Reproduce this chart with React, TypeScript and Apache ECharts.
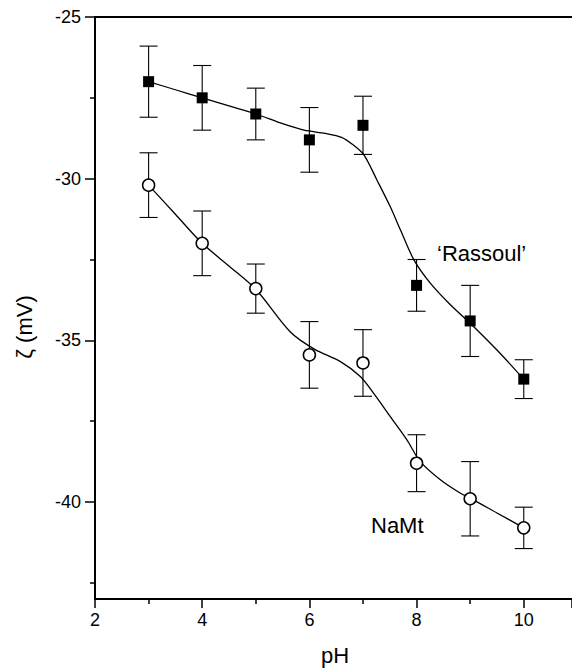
import React, { useEffect, useRef } from "react";
import * as echarts from "echarts";

// pH values of the measurements
const pH = [3, 4, 5, 6, 7, 8, 9, 10];
// zeta potential (mV), 'Rassoul' sample (filled squares)
const rassoulZeta = [-27.0, -27.5, -28.0, -28.8, -28.35, -33.3, -34.4, -36.2];
const rassoulErr = [1.1, 1.0, 0.8, 1.0, 0.9, 0.8, 1.1, 0.6];
// zeta potential (mV), NaMt sample (open circles)
const namtZeta = [-30.2, -32.0, -33.4, -35.45, -35.7, -38.8, -39.9, -40.8];
const namtErr = [1.0, 1.0, 0.76, 1.03, 1.03, 0.88, 1.15, 0.64];

// fitted curves
const rassoulFitX = [3, 3.5, 4, 4.5, 5, 5.5, 5.9, 6.3, 6.6, 6.82, 7.02, 7.26, 7.51, 7.7, 7.95, 8.26, 8.63, 9.0, 9.5, 10];
const rassoulFitY = [-27.0, -27.25, -27.5, -27.75, -28.0, -28.3, -28.5, -28.6, -28.72, -28.96, -29.27, -30.04, -30.87, -31.59, -32.51, -33.24, -33.9, -34.47, -35.3, -36.2];
const namtFitX = [3, 3.5, 4, 4.5, 5, 5.65, 6.1, 6.58, 6.95, 7.2, 7.51, 7.82, 8.07, 8.45, 8.82, 9.0, 9.5, 10];
const namtFitY = [-30.2, -31.1, -32.0, -32.7, -33.42, -34.75, -35.28, -35.66, -36.12, -36.64, -37.36, -38.08, -38.75, -39.32, -39.73, -39.88, -40.34, -40.8];

const yMajorTicks = [-40, -35, -30, -25];
const yMinorTicks = [-42.5, -37.5, -32.5, -27.5];

const FONT = "'Liberation Sans', Arial, Helvetica, sans-serif";

export default function App() {
  const ref = useRef<HTMLDivElement>(null);
  useEffect(() => {
    if (!ref.current) return;
    const chart = echarts.init(ref.current, undefined, { renderer: "svg" });

    const errData = (vals: number[], errs: number[]) =>
      pH.map((x, i) => [x, vals[i] - errs[i], vals[i] + errs[i]]);

    const errRender = (params: any, api: any) => {
      const x = api.value(0);
      const lo = api.coord([x, api.value(1)]);
      const hi = api.coord([x, api.value(2)]);
      const cap = 9;
      const style = { stroke: "#000", lineWidth: 1.1 };
      return {
        type: "group",
        children: [
          { type: "line", shape: { x1: lo[0], y1: lo[1], x2: hi[0], y2: hi[1] }, style },
          { type: "line", shape: { x1: lo[0] - cap, y1: lo[1], x2: lo[0] + cap, y2: lo[1] }, style },
          { type: "line", shape: { x1: hi[0] - cap, y1: hi[1], x2: hi[0] + cap, y2: hi[1] }, style },
        ],
      };
    };

    const axisLine = { show: true, lineStyle: { color: "#000", width: 2 } };

    chart.setOption({
      animation: false,
      backgroundColor: "#fff",
      grid: { left: 95, top: 17, bottom: 71, right: 0 },
      xAxis: [
        {
          type: "value",
          min: 2,
          max: 10.9,
          interval: 2,
          axisLine,
          axisTick: { show: true, length: 9, lineStyle: { color: "#000", width: 1.5 } },
          minorTick: { show: true, splitNumber: 2, length: 5, lineStyle: { color: "#000", width: 1.5 } },
          splitLine: { show: false },
          axisLabel: { color: "#000", fontSize: 18, fontFamily: FONT, margin: 12, showMaxLabel: false },
        },
        {
          type: "value",
          position: "top",
          min: 2,
          max: 10.9,
          axisLine,
          axisTick: { show: false },
          axisLabel: { show: false },
          splitLine: { show: false },
        },
      ],
      yAxis: [
        {
          type: "value",
          min: -43,
          max: -25,
          axisLine,
          axisTick: { show: true, length: 10, customValues: yMajorTicks, lineStyle: { color: "#000", width: 1.5 } },
          axisLabel: { color: "#000", fontSize: 18, fontFamily: FONT, margin: 14, customValues: yMajorTicks },
          splitLine: { show: false },
        },
        {
          type: "value",
          min: -43,
          max: -25,
          position: "left",
          axisLine: { show: false },
          axisTick: { show: true, length: 5, customValues: yMinorTicks, lineStyle: { color: "#000", width: 1.5 } },
          axisLabel: { show: false },
          splitLine: { show: false },
        },
      ],
      graphic: [
        {
          type: "text",
          x: 335,
          y: 655,
          style: { text: "pH", font: `22px ${FONT}`, fill: "#000", align: "center", verticalAlign: "middle" },
        },
        {
          type: "text",
          x: 24,
          y: 327,
          rotation: Math.PI / 2,
          style: { text: "ζ (mV)", font: `22px ${FONT}`, fill: "#000", align: "center", verticalAlign: "middle" },
        },
        {
          type: "text",
          x: 437,
          y: 253,
          style: { text: "\u2018Rassoul\u2019", font: `22px ${FONT}`, fill: "#000", align: "left", verticalAlign: "middle" },
        },
        {
          type: "text",
          x: 371,
          y: 525,
          style: { text: "NaMt", font: `22px ${FONT}`, fill: "#000", align: "left", verticalAlign: "middle" },
        },
      ],
      series: [
        {
          name: "Rassoul fit",
          type: "line",
          data: rassoulFitX.map((x, i) => [x, rassoulFitY[i]]),
          smooth: 0.3,
          showSymbol: false,
          lineStyle: { color: "#000", width: 1.3 },
          z: 2,
        },
        {
          name: "NaMt fit",
          type: "line",
          data: namtFitX.map((x, i) => [x, namtFitY[i]]),
          smooth: 0.3,
          showSymbol: false,
          lineStyle: { color: "#000", width: 1.3 },
          z: 2,
        },
        {
          name: "Rassoul err",
          type: "custom",
          renderItem: errRender,
          data: errData(rassoulZeta, rassoulErr),
          encode: { x: 0, y: [1, 2] },
          z: 3,
        },
        {
          name: "NaMt err",
          type: "custom",
          renderItem: errRender,
          data: errData(namtZeta, namtErr),
          encode: { x: 0, y: [1, 2] },
          z: 3,
        },
        {
          name: "'Rassoul'",
          type: "scatter",
          data: pH.map((x, i) => [x, rassoulZeta[i]]),
          symbol: "rect",
          symbolSize: 11,
          itemStyle: { color: "#000", opacity: 1 },
          z: 5,
        },
        {
          name: "NaMt",
          type: "scatter",
          data: pH.map((x, i) => [x, namtZeta[i]]),
          symbol: "circle",
          symbolSize: 12,
          itemStyle: { color: "#fff", borderColor: "#000", borderWidth: 1.5, opacity: 1 },
          z: 5,
        },
      ],
    });
    return () => chart.dispose();
  }, []);
  return <div ref={ref} style={{ position: "fixed", left: 0, top: 0, width: 572, height: 670 }} />;
}
